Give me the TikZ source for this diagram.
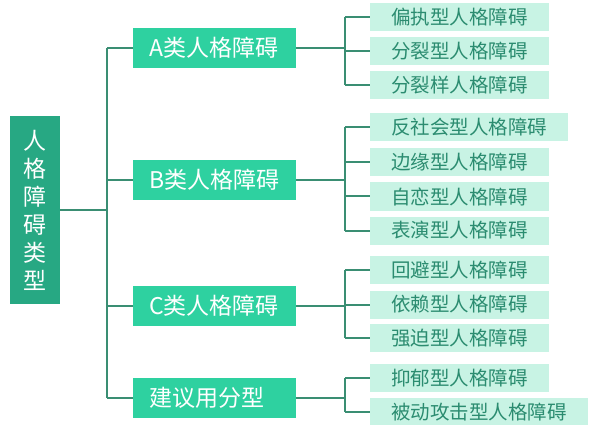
\documentclass[tikz,border=0pt]{standalone}
\usepackage{fontspec}
\setmainfont{Noto Sans CJK SC}
\definecolor{rootfill}{HTML}{27A883}
\definecolor{midfill}{HTML}{2ED1A0}
\definecolor{leaffill}{HTML}{C8F3E4}
\definecolor{leaftext}{HTML}{2B8C70}
\definecolor{linecol}{HTML}{3A8E73}
\tikzset{
  rootbox/.style={fill=rootfill, text=white, minimum width=50pt, minimum height=188pt, inner sep=0pt, align=center, font=\fontsize{23}{28}\selectfont},
  midbox/.style={fill=midfill, text=white, anchor=west, minimum height=40pt, inner xsep=16pt, inner ysep=0pt, text width=131pt, align=left, font=\fontsize{23}{24}\selectfont},
  leafbox/.style={fill=leaffill, text=leaftext, anchor=west, minimum height=28pt, inner xsep=21pt, inner ysep=0pt, font=\fontsize{19.5}{20}\selectfont},
  conn/.style={draw=linecol, line width=2pt}
}
\begin{document}
\begin{tikzpicture}[x=1pt,y=-1pt]
\useasboundingbox (0,0) rectangle (592,425);
\node[rootbox] (root) at (35,210) {人\\格\\障\\碍\\类\\型};
\node[midbox] (A) at (133,48) {A类人格障碍};
\node[midbox] (B) at (133,180) {B类人格障碍};
\node[midbox] (C) at (133,306) {C类人格障碍};
\node[midbox] (D) at (133,398) {建议用分型};
\node[leafbox] (a1) at (370,17) {偏执型人格障碍};
\node[leafbox] (a2) at (370,51.5) {分裂型人格障碍};
\node[leafbox] (a3) at (370,85) {分裂样人格障碍};
\node[leafbox] (b1) at (370,127.5) {反社会型人格障碍};
\node[leafbox] (b2) at (370,162) {边缘型人格障碍};
\node[leafbox] (b3) at (370,196.5) {自恋型人格障碍};
\node[leafbox] (b4) at (370,230.5) {表演型人格障碍};
\node[leafbox] (c1) at (370,270) {回避型人格障碍};
\node[leafbox] (c2) at (370,304.5) {依赖型人格障碍};
\node[leafbox] (c3) at (370,338) {强迫型人格障碍};
\node[leafbox] (d1) at (370,378) {抑郁型人格障碍};
\node[leafbox] (d2) at (370,412) {被动攻击型人格障碍};
\coordinate (tx) at (107,0);
\coordinate (sx) at (345,0);
% trunk
\draw[conn] (tx |- A) -- (tx |- D);
\draw[conn] (root.east) -- (tx |- root);
\foreach \m in {A,B,C,D}{\draw[conn] (tx |- \m) -- (\m.west);}
% sub branches
\draw[conn] (A.east) -- (sx |- A);
\draw[conn] (B.east) -- (sx |- B);
\draw[conn] (C.east) -- (sx |- C);
\draw[conn] (D.east) -- (sx |- D);
\draw[conn] (sx |- a1) -- (sx |- a3);
\draw[conn] (sx |- b1) -- (sx |- b4);
\draw[conn] (sx |- c1) -- (sx |- c3);
\draw[conn] (sx |- d1) -- (sx |- d2);
\foreach \l in {a1,a2,a3,b1,b2,b3,b4,c1,c2,c3,d1,d2}{\draw[conn] (sx |- \l) -- (\l.west);}
\end{tikzpicture}
\end{document}
